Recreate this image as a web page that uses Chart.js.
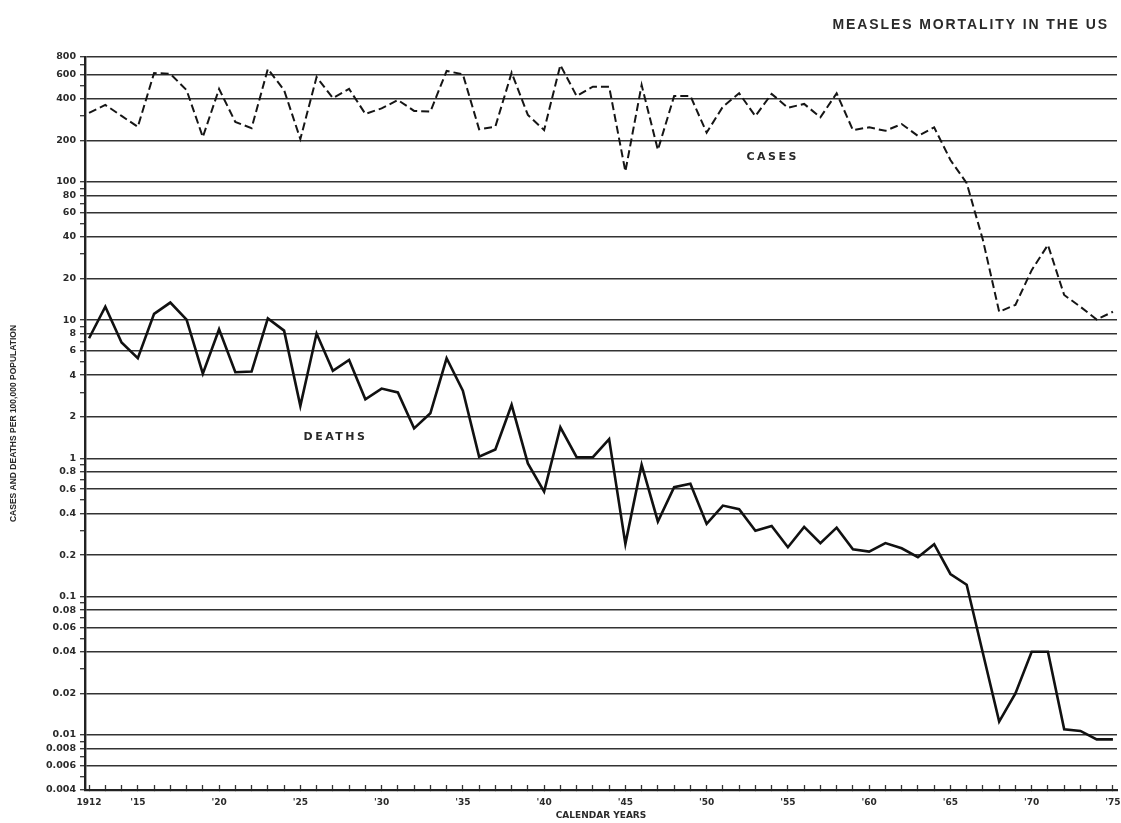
<!DOCTYPE html>
<html>
<head>
<meta charset="utf-8">
<script src="https://cdn.jsdelivr.net/npm/chart.js@4.4.1/dist/chart.umd.min.js"></script>
<style>
html,body{margin:0;padding:0;background:#ffffff;}
#wrap{width:1121px;height:823px;position:relative;}
</style>
</head>
<body>
<div id="wrap"><canvas id="c" width="1121" height="823"></canvas></div>
<script>
// ---- data ----
const years = [1912,1913,1914,1915,1916,1917,1918,1919,1920,1921,1922,1923,1924,1925,1926,1927,1928,1929,1930,1931,
  1932,1933,1934,1935,1936,1937,1938,1939,1940,1941,1942,1943,1944,1945,1946,1947,1948,1949,1950,1951,
  1952,1953,1954,1955,1956,1957,1958,1959,1960,1961,1962,1963,1964,1965,1966,1967,1968,1969,1970,1971,
  1972,1973,1974,1975];

const cases = [316,360,300,250,612,605,461,211,470,271,245,655,461,204,573,404,470,310,340,391,
  326,322,634,600,240,251,616,305,237,700,418,488,488,119,502,170,418,418,227,350,
  437,299,433,344,366,293,437,237,248,234,262,215,248,144,98,38,11.5,12.9,23,35,
  15.2,12.5,10.1,11.5];

const deaths = [7.4,12.5,6.9,5.3,11.1,13.4,10.1,4.1,8.6,4.2,4.25,10.3,8.4,2.4,8.0,4.3,5.15,2.68,3.2,3.0,
  1.65,2.12,5.3,3.09,1.03,1.16,2.44,0.92,0.575,1.68,1.02,1.02,1.38,0.241,0.90,0.35,0.62,0.655,0.336,0.456,
  0.43,0.30,0.325,0.228,0.32,0.244,0.316,0.22,0.212,0.244,0.224,0.193,0.24,0.146,0.122,0.039,0.0125,0.020,0.040,0.040,
  0.011,0.0107,0.0093,0.0093];

const yMajorTicks = [800,600,400,200,100,80,60,40,20,10,8,6,4,2,1,0.8,0.6,0.4,0.2,0.1,0.08,0.06,0.04,0.02,0.01,0.008,0.006,0.004];
const yMajorLabels = ['800','600','400','200','100','80','60','40','20','10','8','6','4','2','1','0.8','0.6','0.4','0.2','0.1','0.08','0.06','0.04','0.02','0.01','0.008','0.006','0.004'];
const yMinorTicks = [700,500,300,90,70,50,30,9,7,5,3,0.9,0.7,0.5,0.3,0.09,0.07,0.05,0.03,0.009,0.007,0.005];

const xLabeledYears = [1912,1915,1920,1925,1930,1935,1940,1945,1950,1955,1960,1965,1970,1975];
const xTickLabels = ['1912',"'15","'20","'25","'30","'35","'40","'45","'50","'55","'60","'65","'70","'75"];

const titleText = 'MEASLES MORTALITY IN THE US';
const yTitle = 'CASES AND DEATHS PER 100,000 POPULATION';
const xTitle = 'CALENDAR YEARS';
const casesLabel = {text: 'CASES', year: 1954.0, value: 150};
const deathsLabel = {text: 'DEATHS', year: 1927.1, value: 1.43};

// ---- styles ----
const INK = '#2a2a2a';
const LINE = '#333333';

const casesPts = years.map((yr, i) => ({x: yr, y: cases[i]}));
const deathsPts = years.map((yr, i) => ({x: yr, y: deaths[i]}));

const annot = {
  id: 'annot',
  afterDatasetsDraw(chart) {
    const {ctx, scales: {x, y}} = chart;
    ctx.save();
    ctx.fillStyle = INK;
    ctx.textAlign = 'center';
    ctx.textBaseline = 'middle';
    ctx.font = 'bold 11px "DejaVu Sans"';
    ctx.letterSpacing = '2.5px';
    [casesLabel, deathsLabel].forEach(l => {
      ctx.fillText(l.text, x.getPixelForValue(l.year) + 1, y.getPixelForValue(l.value));
    });
    ctx.font = 'bold 14px "Liberation Sans"';
    ctx.letterSpacing = '1.9px';
    ctx.textAlign = 'right';
    ctx.fillText(titleText, chart.width - 12, 25);
    ctx.restore();
  }
};

new Chart(document.getElementById('c'), {
  type: 'line',
  data: {
    datasets: [
      {label: 'Cases', data: casesPts, borderColor: '#151515', borderWidth: 2, borderDash: [8, 4],
       pointRadius: 0, tension: 0, fill: false},
      {label: 'Deaths', data: deathsPts, borderColor: '#111111', borderWidth: 2.6,
       pointRadius: 0, tension: 0, fill: false}
    ]
  },
  options: {
    responsive: false,
    animation: false,
    devicePixelRatio: 1,
    layout: {padding: {top: 57, right: 4, bottom: 0, left: 0}},
    plugins: {legend: {display: false}, tooltip: {enabled: false}, title: {display: false}},
    scales: {
      x: {
        type: 'linear', min: 1911.75, max: 1975.25,
        afterBuildTicks: s => { s.ticks = years.map(v => ({value: v})); },
        afterFit: s => { s.height = 33; s.paddingLeft = 0; s.paddingRight = 0; },
        ticks: {
          autoSkip: false, maxRotation: 0, padding: 12, color: INK,
          font: {family: 'DejaVu Sans', size: 9, weight: 'bold'},
          callback: v => { const i = xLabeledYears.indexOf(v); return i >= 0 ? xTickLabels[i] : ''; }
        },
        grid: {drawOnChartArea: false, drawTicks: true, tickLength: -5, tickColor: LINE, tickWidth: 1.3},
        border: {display: true, color: '#222', width: 2.2},
        title: {display: true, text: xTitle, color: INK, padding: {top: 0, bottom: 2},
                font: {family: 'DejaVu Sans', size: 9, weight: 'bold'}}
      },
      y: {
        type: 'logarithmic', min: 0.004, max: 800,
        afterBuildTicks: s => {
          s.ticks = yMajorTicks.concat(yMinorTicks).sort((a, b) => a - b).map(v => ({value: v}));
        },
        afterFit: s => { s.width = 85; s.paddingTop = 0; s.paddingBottom = 0; },
        ticks: {
          autoSkip: false, padding: 4, color: INK,
          font: {family: 'DejaVu Sans', size: 9.5, weight: 'bold'},
          callback: v => { const i = yMajorTicks.indexOf(v); return i >= 0 ? yMajorLabels[i] : ''; }
        },
        grid: {
          color: c => (c.tick && yMajorTicks.includes(c.tick.value)) ? LINE : 'rgba(0,0,0,0)',
          lineWidth: 1.4, drawTicks: true, tickLength: 5, tickColor: LINE, tickWidth: 1.3
        },
        border: {display: true, color: '#222', width: 2.4},
        title: {display: true, text: yTitle, color: INK, padding: {top: 9, bottom: 0},
                font: {family: 'Liberation Sans', size: 8.5, weight: 'bold'}}
      }
    }
  },
  plugins: [annot]
});
</script>
</body>
</html>
